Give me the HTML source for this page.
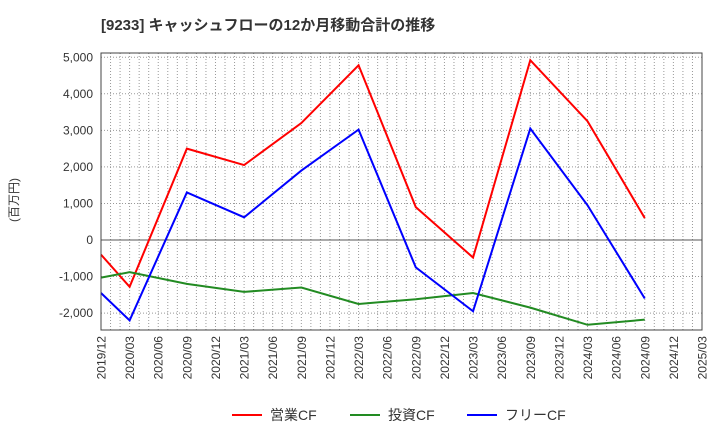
<!DOCTYPE html>
<html><head><meta charset="utf-8"><style>
body{margin:0;background:#fff;font-family:"Liberation Sans","Noto Sans CJK JP",sans-serif;}
</style></head><body>
<svg id="c" width="720" height="440" xmlns="http://www.w3.org/2000/svg">
<text x="101" y="30" font-size="15" font-weight="bold" fill="#333">[9233]  キャッシュフローの12か月移動合計の推移</text>
<text transform="translate(18,200) rotate(-90)" font-size="12" fill="#333" text-anchor="middle">(百万円)</text>
<g id="grid"></g><g id="ticks"></g><g id="series"></g>
<rect x="101" y="53" width="601" height="277" fill="none" stroke="#444"/>
<g>
<line x1="232" y1="415" x2="262" y2="415" stroke="#f00" stroke-width="2"/><text x="270" y="420" font-size="14" fill="#333">営業CF</text>
<line x1="350" y1="415" x2="380" y2="415" stroke="#228b22" stroke-width="2"/><text x="388" y="420" font-size="14" fill="#333">投資CF</text>
<line x1="467" y1="415" x2="497" y2="415" stroke="#00f" stroke-width="2"/><text x="505" y="420" font-size="14" fill="#333">フリーCF</text>
</g>
</svg>
<script>
const xLabels=["2019/12","2020/03","2020/06","2020/09","2020/12","2021/03","2021/06","2021/09","2021/12","2022/03","2022/06","2022/09","2022/12","2023/03","2023/06","2023/09","2023/12","2024/03","2024/06","2024/09","2024/12","2025/03"];
const yTicks=[-2000,-1000,0,1000,2000,3000,4000,5000];
const opIdx=[0,1,3,5,7,9,11,13,15,17,19];
const operating=[-400,-1280,2500,2050,3200,4780,900,-480,4920,3250,600];
const investing=[-1030,-880,-1200,-1420,-1300,-1750,-1620,-1450,-1850,-2320,-2180];
const free=[-1450,-2200,1300,620,1900,3020,-750,-1950,3050,950,-1600];
const NS="http://www.w3.org/2000/svg";
const x=i=>101+i*(601/21);
const y=v=>240-v*0.03655;
function mk(t,a,p){const e=document.createElementNS(NS,t);for(const k in a)e.setAttribute(k,a[k]);p.appendChild(e);return e;}
const g=document.getElementById('grid'),tk=document.getElementById('ticks'),s=document.getElementById('series');
for(let m=1;m<63;m++){const l=mk('line',{x1:101+m*601/63,x2:101+m*601/63,y1:53,y2:330,stroke:'#999','stroke-dasharray':'1,2','stroke-width':1},g);

}
yTicks.forEach(v=>{const l=mk('line',{x1:101,x2:702,y1:y(v),y2:y(v),stroke:v===0?'#555':'#999','stroke-dasharray':v===0?'none':'1,2'},g);


const t=mk('text',{x:93,y:y(v)+4,'font-size':12,fill:'#333','text-anchor':'end'},tk);t.textContent=v.toLocaleString('en-US');

});
xLabels.forEach((lb,i)=>{const t=mk('text',{transform:`translate(${x(i)+4.5},336) rotate(-90)`,'font-size':12,fill:'#333','text-anchor':'end'},tk);t.textContent=lb;

});
[[operating,'#f00','operating-cf-line'],[investing,'#228b22','investing-cf-line'],[free,'#00f','free-cf-line']].forEach(([d,c,n])=>{
const p=mk('polyline',{points:d.map((v,k)=>x(opIdx[k])+','+y(v)).join(' '),fill:'none',stroke:c,'stroke-width':2},s);

});
</script>
</body></html>
